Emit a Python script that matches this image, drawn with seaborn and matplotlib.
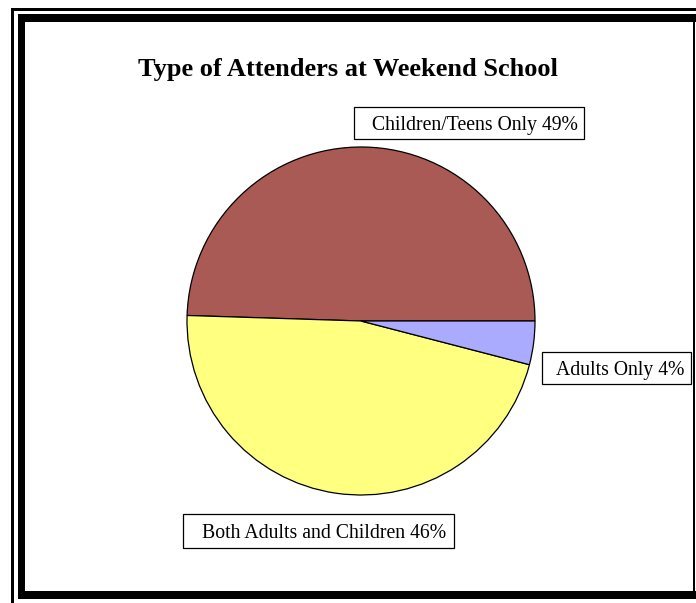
import matplotlib
matplotlib.use("Agg")
import matplotlib.pyplot as plt
from matplotlib.patches import Rectangle
import seaborn as sns

# Share of attenders by type (percent)
categories = ["Children/Teens Only", "Both Adults and Children", "Adults Only"]
shares = [49, 46, 4]
colors = ["#AA5A55", "#FFFF80", "#AAAAFF"]

sns.set_theme(style="white")
plt.rcParams["font.family"] = ["Liberation Serif", "DejaVu Serif"]

W, H = 696, 603
fig = plt.figure(figsize=(W / 100, H / 100), dpi=100)
ax = fig.add_axes([0, 0, 1, 1])


def rect(x0, y0, x1, y1, **kw):
    """Rectangle given in top-left based pixel coordinates."""
    return Rectangle((x0, H - y1), x1 - x0, y1 - y0, **kw)


# Pie, starting at 3 o'clock and running counter-clockwise
ax.pie(
    shares,
    colors=colors,
    startangle=0,
    counterclock=True,
    center=(361, H - 321),
    radius=174,
    wedgeprops=dict(edgecolor="black", linewidth=0.9),
    frame=True,
)
ax.set_xlim(0, W)
ax.set_ylim(0, H)
ax.set_aspect("equal")
ax.axis("off")

# Double frame around the chart area
for x0, y0, x1, y1 in [
    (11, 8, 696, 11),
    (11, 8, 14, 603),
    (18, 14, 696, 22),
    (18, 14, 25, 599),
    (18, 591, 696, 599),
    (693, 22, 695, 591),
]:
    ax.add_patch(rect(x0, y0, x1, y1, facecolor="black", edgecolor="none"))

ax.text(348, H - 76, "Type of Attenders at Weekend School", ha="center",
        va="baseline", fontsize=19, fontweight="bold", color="black")

# Boxed labels: (box x0, y0, x1, y1, text x)
boxes = [
    (354, 107, 584, 139, 372),
    (183, 514, 454, 548, 202),
    (542, 352, 691, 384, 556),
]
for (x0, y0, x1, y1, tx), name, val in zip(boxes, categories, shares):
    ax.add_patch(rect(x0, y0, x1, y1, facecolor="white", edgecolor="black",
                      linewidth=0.9))
    ax.text(tx, H - (y0 + y1) / 2, f"{name} {val}%", ha="left",
            va="center_baseline", fontsize=14.2, color="black")

fig.savefig("out.png", dpi=100)
